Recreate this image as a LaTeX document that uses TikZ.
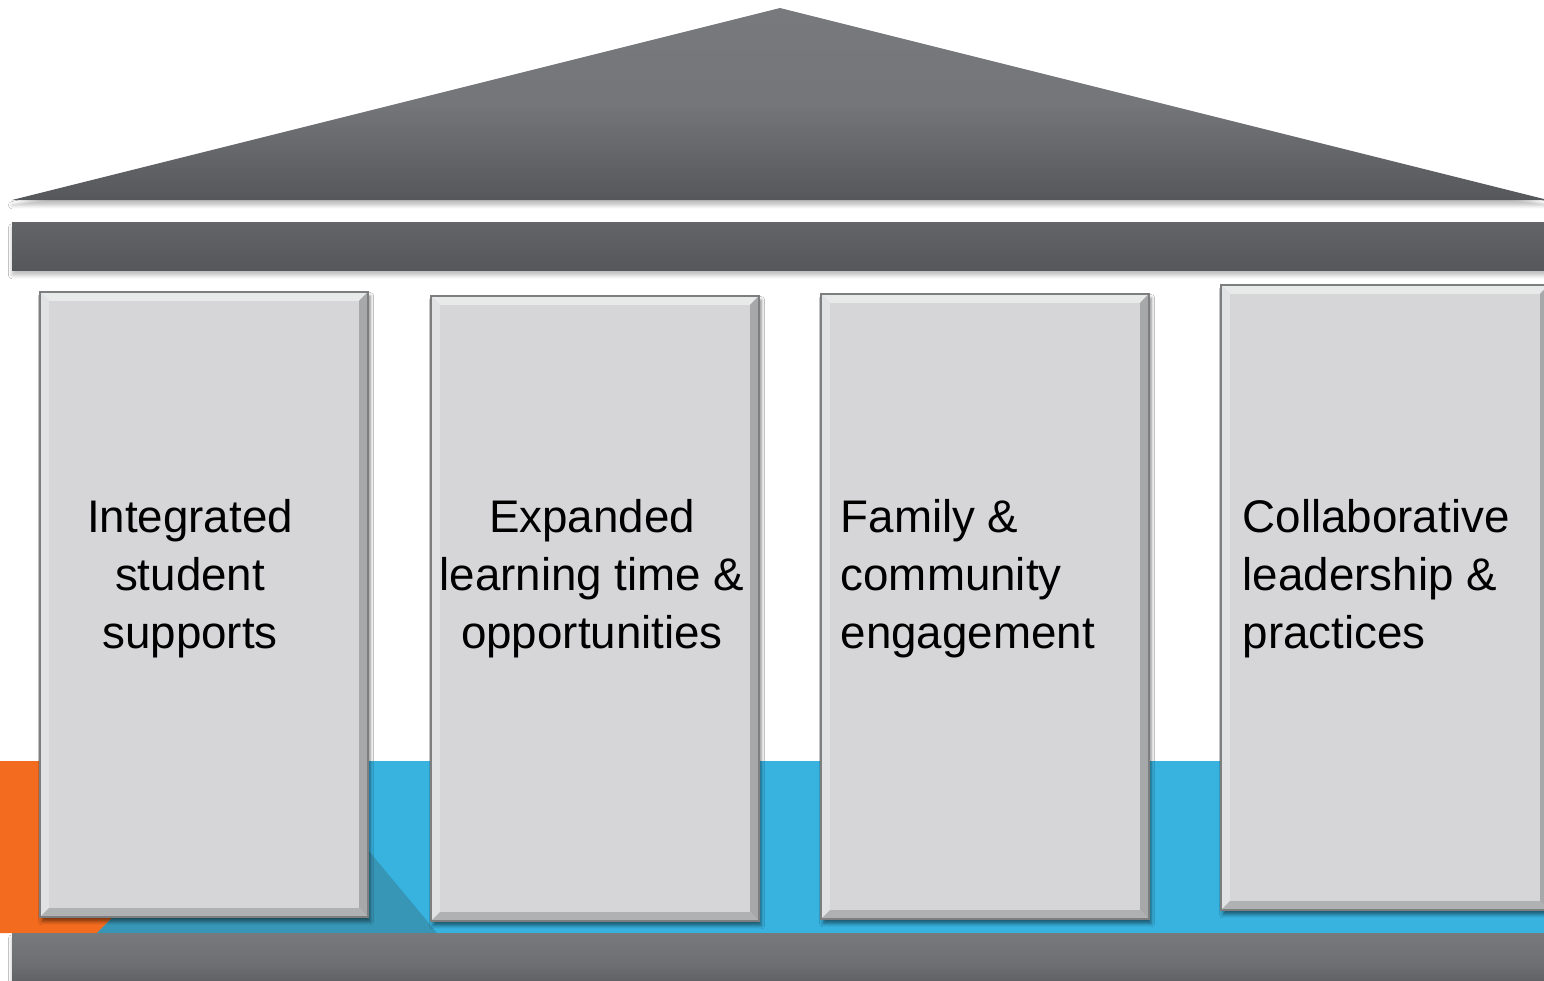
\documentclass[tikz,border=0pt]{standalone}
\usepackage{fontspec}
\setmainfont{Liberation Sans}
\usetikzlibrary{shadows.blur}
\definecolor{roofTop}{HTML}{77797D}
\definecolor{roofBot}{HTML}{56575B}
\definecolor{skyBlue}{HTML}{38B2DF}
\definecolor{deepTeal}{HTML}{3795B5}
\definecolor{flame}{HTML}{F26B1F}
\definecolor{stoneFace}{HTML}{D6D6D8}
\definecolor{stoneLight}{HTML}{E8E9E9}
\definecolor{stoneDark}{HTML}{A7A8A9}
\definecolor{stoneLow}{HTML}{B0B1B2}
\definecolor{stoneEdge}{HTML}{7D7E80}

\begin{document}
\begin{tikzpicture}[x=0.01cm,y=-0.01cm]
    \tikzstyle{beam}=[top color=roofBot!60!roofTop,middle color=roofTop,bottom color=roofBot,
                      blur shadow={shadow xshift=0pt,shadow yshift=-1.5pt,shadow blur radius=1pt,shadow opacity=25}]
    \tikzstyle{pillar}=[fill=stoneFace,inner sep=0pt,outer sep=0pt,minimum width=3.28cm,minimum height=6.25cm,
                        blur shadow={shadow xshift=0.6pt,shadow yshift=-1.2pt,shadow blur radius=1pt,shadow opacity=50}]
    \tikzstyle{words}=[font=\fontsize{13}{16.5}\selectfont,inner sep=0pt]
    \useasboundingbox (0,0) rectangle (1544,981);
    \clip (0,0) rectangle (1544,981);
    \fill[white] (0,0) rectangle (1544,981);
    % ground strip
    \fill[skyBlue] (0,761) rectangle (1544,933);
    \fill[flame] (0,761) -- (269,761) -- (97,933) -- (0,933) -- cycle;
    \fill[deepTeal] (113,917) -- (97,933) -- (437,933) -- (368,850) -- (368,917) -- cycle;
    % roof, beam and base
    \shade[beam,top color=roofTop,middle color=roofTop!90!roofBot] (12,200) -- (780,8) -- (1548,200) -- cycle;
    \shade[beam] (12,222) rectangle (1550,270);
    \shade[beam,top color=roofTop,middle color=roofTop!70!roofBot] (12,933) rectangle (1550,995);
    % pillars
    \draw node[pillar](p1)at(204,604.5){}
          node[pillar](p2)at(595,608.5){}
          node[pillar](p3)at(985,606.5){}
          node[pillar](p4)at(1385,597.5){};
    \foreach \p in {p1,p2,p3,p4}{
      \fill[stoneLight] (\p.north west) -- (\p.north east) -- ([shift={(-9,9)}]\p.north east) -- ([shift={(9,9)}]\p.north west) -- cycle;
      \fill[stoneLight!90!stoneDark] (\p.north west) -- ([shift={(9,9)}]\p.north west) -- ([shift={(9,-9)}]\p.south west) -- (\p.south west) -- cycle;
      \fill[stoneDark] (\p.north east) -- ([shift={(-9,9)}]\p.north east) -- ([shift={(-9,-9)}]\p.south east) -- (\p.south east) -- cycle;
      \fill[stoneLow] (\p.south west) -- ([shift={(9,-9)}]\p.south west) -- ([shift={(-9,-9)}]\p.south east) -- (\p.south east) -- cycle;
      \draw[stoneEdge,line width=0.6pt] (\p.north west) rectangle (\p.south east);
    }
    % pillar labels
    \node[words,align=center](t1)at(190,579){Integrated\\student\\supports};
    \node[words,align=center](t2)at(592,579){Expanded\\learning time \&\\opportunities};
    \node[words,align=left,anchor=west](t3)at(840,579){Family \&\\community\\engagement};
    \node[words,align=left,anchor=west](t4)at(1242,579){Collaborative\\leadership \&\\practices};
\end{tikzpicture}
\end{document}
